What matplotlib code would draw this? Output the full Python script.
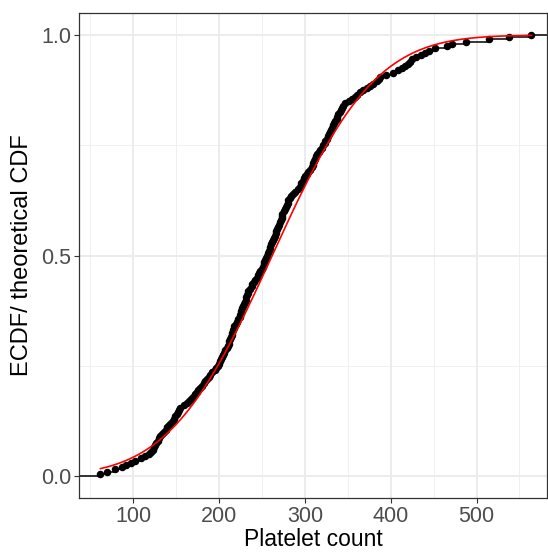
import numpy as np
import matplotlib
matplotlib.use("Agg")
import matplotlib.pyplot as plt
from math import erf, sqrt

plt.rcParams['font.family'] = ['Liberation Sans', 'DejaVu Sans']

# Platelet counts (sorted)
platelets = [
    62, 70, 79, 87, 92, 97, 102, 109, 114, 119,
    121, 123, 124, 126, 127, 129, 130, 131, 134, 136,
    138, 140, 142, 144, 146, 148, 149, 151, 152, 154,
    155, 159, 163, 165, 168, 170, 172, 174, 176, 178,
    180, 182, 184, 186, 188, 190, 192, 195, 197, 199,
    200, 201, 202, 204, 205, 206, 207, 209, 210, 212,
    212, 213, 214, 215, 215, 216, 217, 218, 220, 221,
    222, 224, 225, 226, 226, 227, 228, 229, 230, 231,
    232, 233, 234, 234, 236, 238, 239, 241, 242, 244,
    245, 247, 248, 250, 251, 252, 253, 254, 255, 256,
    257, 258, 259, 260, 261, 262, 263, 264, 265, 266,
    267, 268, 269, 270, 271, 272, 273, 273, 274, 276,
    277, 278, 279, 280, 281, 283, 284, 286, 289, 292,
    294, 295, 296, 298, 299, 300, 302, 304, 306, 308,
    309, 310, 311, 312, 313, 314, 316, 318, 320, 321,
    323, 324, 326, 327, 328, 329, 330, 332, 333, 334,
    335, 337, 338, 339, 341, 342, 343, 344, 347, 352,
    355, 358, 361, 364, 368, 372, 376, 380, 384, 386,
    388, 395, 403, 409, 413, 417, 420, 423, 425, 430,
    435, 440, 445, 452, 466, 472, 488, 515, 538, 564,
]
# Theoretical normal parameters
mu = 262.0
sigma = 94.0

x_ticks = [100, 200, 300, 400, 500]
y_ticks = [0.0, 0.5, 1.0]
y_tick_labels = ["0.0", "0.5", "1.0"]

x = np.sort(np.array(platelets, dtype=float))
n = len(x)
ecdf = np.arange(1, n + 1) / n

fig = plt.figure(figsize=(5.48, 5.52), dpi=100)
ax = fig.add_axes([0.1442, 0.0978, 0.8538, 0.8786])

xlo, xhi = 37.0, 582.0
ax.set_xlim(xlo, xhi)
ax.set_ylim(-0.05, 1.05)

# grid (theme_bw)
for v in [50, 150, 250, 350, 450, 550]:
    ax.axvline(v, color='#f0f0f0', lw=0.7, zorder=0)
for v in [0.25, 0.75]:
    ax.axhline(v, color='#f0f0f0', lw=0.7, zorder=0)
for v in x_ticks:
    ax.axvline(v, color='#ebebeb', lw=1.3, zorder=0)
for v in y_ticks:
    ax.axhline(v, color='#ebebeb', lw=1.3, zorder=0)

# ECDF step line padded to panel edges
xs = np.concatenate([[xlo - 10], x, [xhi + 10]])
ys = np.concatenate([[0.0], ecdf, [1.0]])
ax.step(xs, ys, where='post', color='black', lw=1.1, zorder=2)
ax.plot(x, ecdf, 'o', color='black', ms=4.4, zorder=3)

# theoretical CDF
xt = np.linspace(x.min(), x.max(), 400)
yt = np.array([0.5 * (1 + erf((v - mu) / (sigma * sqrt(2)))) for v in xt])
ax.plot(xt, yt, color='red', lw=1.2, zorder=4)

ax.set_xticks(x_ticks)
ax.set_xticklabels([str(v) for v in x_ticks])
ax.set_yticks(y_ticks)
ax.set_yticklabels(y_tick_labels)
ax.tick_params(axis='both', direction='out', length=3.5, width=0.8,
               color='#333333', labelcolor='#4d4d4d', labelsize=15.5, pad=2)
for s in ax.spines.values():
    s.set_color('#333333')
    s.set_linewidth(0.9)

ax.set_xlabel("Platelet count", fontsize=16.5, color='black', labelpad=1)
ax.set_ylabel("ECDF/ theoretical CDF", fontsize=17, color='black', labelpad=6)

fig.savefig("out.png", dpi=100)
